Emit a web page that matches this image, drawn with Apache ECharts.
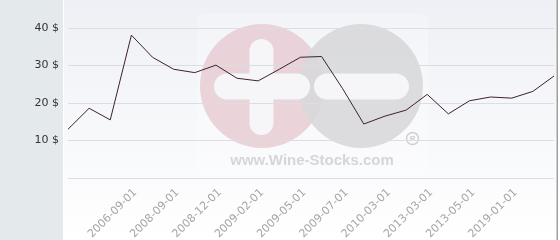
<!DOCTYPE html>
<html>
<head>
<meta charset="utf-8">
<script src="https://cdn.jsdelivr.net/npm/echarts@6/dist/echarts.min.js"></script>
<style>html,body{margin:0;padding:0;background:#fff}#c{width:560px;height:240px}</style>
</head>
<body>
<div id="c"></div>
<script>
// Data
var xLabels = ['', '', '', '2006-09-01', '', '2008-09-01', '', '2008-12-01', '', '2009-02-01', '', '2009-05-01',
               '', '2009-07-01', '', '2010-03-01', '', '2013-03-01', '', '2013-05-01', '', '2019-01-01', '', ''];
var prices = [13.0, 18.6, 15.5, 38.1, 32.2, 29.0, 28.1, 30.1, 26.6, 25.9, 29.0, 32.2,
              32.4, 23.8, 14.4, 16.5, 18.1, 22.3, 17.1, 20.6, 21.6, 21.3, 23.1, 27.2];
var yTicks = [0, 10, 20, 30, 40];

var chart = echarts.init(document.getElementById('c'), null, {renderer: 'canvas'});
var font = 'DejaVu Sans';
chart.setOption({
  animation: false,
  backgroundColor: '#ffffff',
  textStyle: {fontFamily: font},
  graphic: [
    {type: 'rect', z: -20, silent: true, shape: {x: 0, y: 0, width: 63, height: 240}, style: {fill: '#e4e9ec'}},
    {type: 'rect', z: -20, silent: true, shape: {x: 64, y: 0, width: 493, height: 240},
     style: {fill: new echarts.graphic.LinearGradient(0, 0, 0, 1, [{offset: 0, color: '#eef0f5'}, {offset: 1, color: '#ffffff'}])}},
    {type: 'rect', z: -20, silent: true, shape: {x: 556.5, y: 0, width: 1.5, height: 240}, style: {fill: '#a0a0a0'}},
    {type: 'rect', z: -19, silent: true, shape: {x: 197, y: 14, width: 231, height: 160, r: 6}, style: {fill: '#ffffff', opacity: 0.25}},
    {type: 'circle', z: -18, silent: true, shape: {cx: 262, cy: 86, r: 62}, style: {fill: '#e8ced5', opacity: 0.9}},
    {type: 'circle', z: -18, silent: true, shape: {cx: 361, cy: 86, r: 62}, style: {fill: '#d8d8da', opacity: 0.9}},
    {type: 'rect', z: -17, silent: true, shape: {x: 249.5, y: 39, width: 24, height: 96, r: 12}, style: {fill: '#f6f6f9'}},
    {type: 'rect', z: -17, silent: true, shape: {x: 214, y: 73.5, width: 96, height: 26, r: 13}, style: {fill: '#f6f6f9'}},
    {type: 'rect', z: -17, silent: true, shape: {x: 314, y: 73.5, width: 95, height: 26, r: 13}, style: {fill: '#f6f6f9'}},
    {type: 'text', z: -17, silent: true, x: 312, y: 161,
     style: {text: 'www.Wine-Stocks.com', font: 'bold 15px "Liberation Sans", Arial, sans-serif', fill: '#d6d6d8', align: 'center', verticalAlign: 'middle'}},
    {type: 'circle', z: -17, silent: true, shape: {cx: 412.5, cy: 138.5, r: 6}, style: {fill: 'none', stroke: '#cfcfd1', lineWidth: 1.5}},
    {type: 'text', z: -17, silent: true, x: 412.7, y: 139,
     style: {text: 'R', font: 'bold 8px "Liberation Sans", Arial, sans-serif', fill: '#cfcfd1', align: 'center', verticalAlign: 'middle'}}
  ],
  grid: {left: 68, right: 6, top: 28, bottom: 62, outerBoundsMode: 'none', containLabel: false},
  xAxis: {
    type: 'category',
    boundaryGap: false,
    data: xLabels.map(function (_, i) { return String(i); }),
    axisLine: {show: false},
    axisTick: {show: false},
    splitLine: {show: false},
    axisLabel: {
      rotate: 45,
      margin: 9,
      verticalAlign: 'top',
      color: '#a5a5a5',
      fontSize: 11,
      fontFamily: font,
      interval: function (index) { return xLabels[index] !== ''; },
      formatter: function (v) { return xLabels[+v]; }
    }
  },
  yAxis: {
    type: 'value',
    min: yTicks[0],
    max: yTicks[yTicks.length - 1],
    interval: 10,
    axisLine: {show: false},
    axisTick: {show: false},
    splitLine: {lineStyle: {color: '#dcdde0', width: 1}},
    axisLabel: {
      margin: 9,
      color: '#333333',
      fontSize: 11,
      fontFamily: font,
      formatter: function (v) { return v === 0 ? '' : v + ' $'; }
    }
  },
  series: [{
    type: 'line',
    data: prices,
    symbol: 'none',
    lineStyle: {color: '#3d2130', width: 1},
    z: 5
  }]
});
</script>
</body>
</html>
